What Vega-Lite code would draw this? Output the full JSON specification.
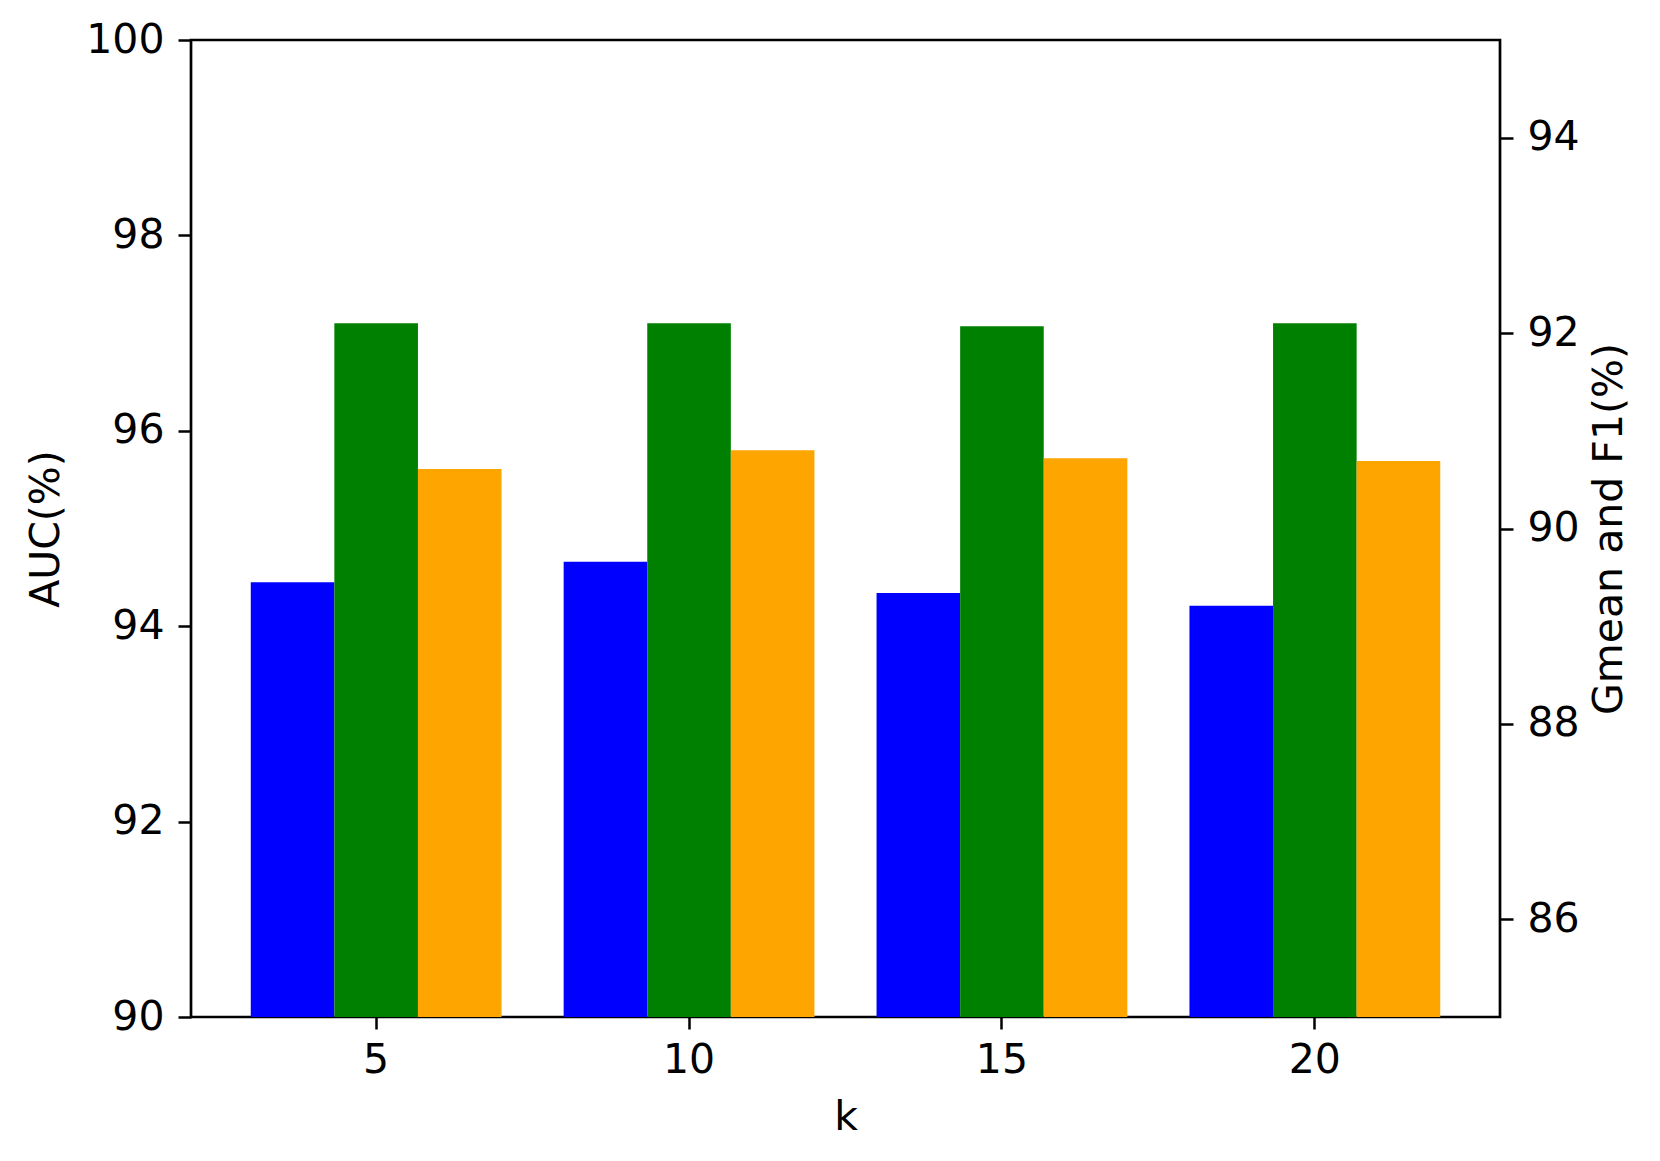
{
  "$schema": "https://vega.github.io/schema/vega-lite/v6.json",
  "width": 1309,
  "height": 977,
  "autosize": {"type": "none"},
  "padding": {"left": 191, "top": 40, "right": 160, "bottom": 144},
  "background": "white",
  "config": {
    "font": "DejaVu Sans",
    "view": {"stroke": "black", "strokeWidth": 2.7},
    "axis": {
      "domain": false,
      "grid": false,
      "labelFont": "DejaVu Sans",
      "titleFont": "DejaVu Sans",
      "labelFontSize": 41,
      "titleFontSize": 41,
      "titleFontWeight": "normal",
      "labelColor": "black",
      "titleColor": "black",
      "tickColor": "black",
      "tickWidth": 2.5,
      "tickSize": 13,
      "labelPadding": 14
    }
  },
  "data": {
    "values": [
      {"k": 5, "metric": "AUC", "value": 94.45},
      {"k": 5, "metric": "Gmean", "value": 92.10},
      {"k": 5, "metric": "F1", "value": 90.61},
      {"k": 10, "metric": "AUC", "value": 94.66},
      {"k": 10, "metric": "Gmean", "value": 92.10},
      {"k": 10, "metric": "F1", "value": 90.80},
      {"k": 15, "metric": "AUC", "value": 94.34},
      {"k": 15, "metric": "Gmean", "value": 92.07},
      {"k": 15, "metric": "F1", "value": 90.72},
      {"k": 20, "metric": "AUC", "value": 94.21},
      {"k": 20, "metric": "Gmean", "value": 92.10},
      {"k": 20, "metric": "F1", "value": 90.69}
    ]
  },
  "encoding": {
    "x": {
      "field": "k",
      "type": "ordinal",
      "sort": [5, 10, 15, 20],
      "scale": {"paddingInner": 0.1985, "paddingOuter": 0.191},
      "axis": {"title": "k", "labelAngle": 0, "tickSize": 12, "labelPadding": 11, "titlePadding": 17}
    },
    "xOffset": {
      "field": "metric",
      "type": "nominal",
      "sort": ["AUC", "Gmean", "F1"],
      "scale": {"domain": ["AUC", "Gmean", "F1"], "paddingInner": 0, "paddingOuter": 0}
    },
    "color": {
      "field": "metric",
      "type": "nominal",
      "scale": {"domain": ["AUC", "Gmean", "F1"], "range": ["#0000ff", "#008000", "#ffa500"]},
      "legend": null
    }
  },
  "layer": [
    {
      "transform": [{"filter": "datum.metric === 'AUC'"}],
      "mark": {"type": "bar", "clip": true},
      "encoding": {
        "y": {
          "field": "value",
          "type": "quantitative",
          "scale": {"domain": [90, 100], "zero": false, "nice": false},
          "axis": {"title": "AUC(%)", "values": [90, 92, 94, 96, 98, 100], "titlePadding": 18}
        }
      }
    },
    {
      "transform": [{"filter": "datum.metric !== 'AUC'"}],
      "mark": {"type": "bar", "clip": true},
      "encoding": {
        "y": {
          "field": "value",
          "type": "quantitative",
          "scale": {"domain": [85, 95], "zero": false, "nice": false},
          "axis": {"orient": "right", "title": "Gmean and F1(%)", "titleAngle": 270, "titleBaseline": "top", "values": [86, 88, 90, 92, 94], "titlePadding": 10}
        }
      }
    }
  ],
  "resolve": {"scale": {"y": "independent"}}
}
